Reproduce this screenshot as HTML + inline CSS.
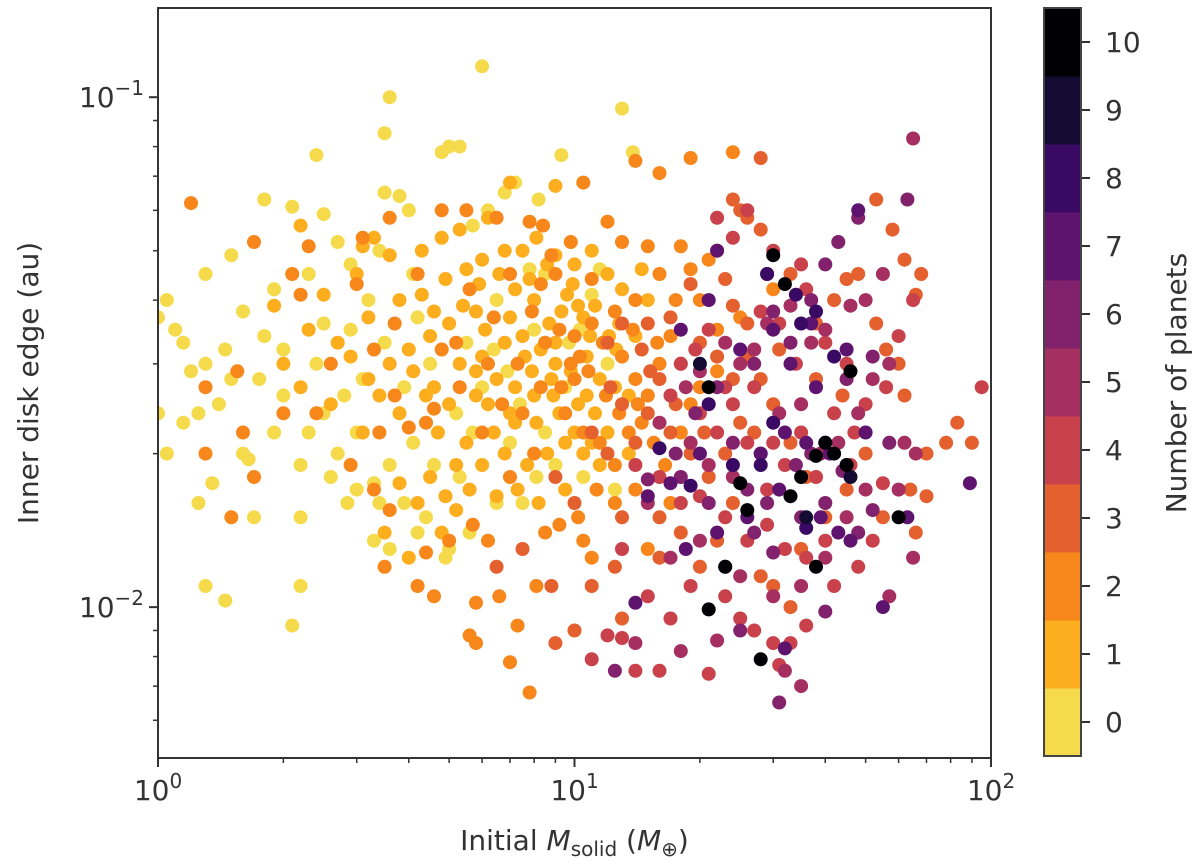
<!DOCTYPE html>
<html><head><meta charset="utf-8">
<style>
body{margin:0;background:#fff;}
svg{display:block;font-family:"DejaVu Sans","Liberation Sans",sans-serif;}
</style></head>
<body>
<svg id="chart" width="1200" height="868">
<rect width="1200" height="868" fill="#fff"/>
<g id="points"></g>
<g id="axes"></g>
<g id="cbar"></g>
</svg>
<script>
const planetCounts=[0,1,2,3,4,5,6,7,8,9,10];
const bandColors=["#f5db4c","#fcae1e","#f7861b","#e4602f","#c8414b","#a52f60","#82226c","#5e136e","#3a0963","#140b33","#000004"];
const xTickLabels=["0","1","2"];
const yTickLabels=["-2","-1"];
const pts_n0=[[6.0,0.115],[3.6,0.1],[13,0.095],[3.5,0.085],[5,0.08],[5.3,0.08],[4.8,0.078],[2.4,0.077],[9.3,0.077],[13.8,0.078],[7.2,0.068],[1.8,0.063],[3.5,0.065],[3.8,0.064],[6.8,0.065],[8.2,0.063],[2.1,0.061],[4,0.06],[2.5,0.059],[5.7,0.056],[1.5,0.049],[1.3,0.045],[1.05,0.04],[2.7,0.052],[3.4,0.05],[2.9,0.047],[1.9,0.042],[1.0,0.037],[2.3,0.045],[1.6,0.038],[3.2,0.04],[2.5,0.036],[1.1,0.035],[1.45,0.032],[1.3,0.03],[1.2,0.029],[1.5,0.028],[1.0,0.024],[1.15,0.023],[1.25,0.024],[1.4,0.025],[1.05,0.02],[1.6,0.02],[1.65,0.0195],[1.9,0.022],[2.3,0.022],[2.5,0.024],[2.8,0.026],[3.1,0.028],[2.7,0.02],[2.2,0.019],[2.6,0.018],[3.0,0.017],[3.3,0.0175],[2.85,0.016],[1.25,0.016],[1.7,0.015],[2.2,0.015],[1.3,0.011],[1.45,0.0103],[2.1,0.0092],[2.2,0.011],[3.6,0.019],[4.1,0.021],[3.9,0.016],[4.4,0.015],[4.2,0.014],[5.3,0.018],[5.0,0.013],[4.9,0.0125],[3.3,0.0135],[3.6,0.013],[6.5,0.016],[7.5,0.016],[7.4,0.025],[6.0,0.027],[5.2,0.024],[8.5,0.022],[9.0,0.019],[10.5,0.018],[12.5,0.017],[10.3,0.035],[11,0.041],[12,0.03],[9.7,0.033],[8.5,0.045],[4.5,0.03],[6.5,0.04],[6.4,0.032],[2.0,0.032],[1.75,0.028],[2.0,0.026],[3.5,0.033],[4.2,0.037],[6.2,0.06],[1.35,0.0175],[1.15,0.033],[5.5,0.033],[11.5,0.046],[7.8,0.046],[2.4,0.03],[2.9,0.035],[3.9,0.027],[4.6,0.019],[5.7,0.022],[6.9,0.029],[8.0,0.035],[3.0,0.022],[1.8,0.034],[4.1,0.045],[7.0,0.021],[9.5,0.027],[3.4,0.016],[5.6,0.014],[8.1,0.018]];
const pts_n1=[[7,0.068],[9,0.067],[6.2,0.058],[5.3,0.055],[4.8,0.053],[4.3,0.05],[3.3,0.053],[3.1,0.051],[2.2,0.056],[3.6,0.049],[2.3,0.035],[2.7,0.033],[3.2,0.037],[3.8,0.04],[4.3,0.041],[4.9,0.044],[5.5,0.046],[6,0.048],[6.8,0.05],[7.5,0.05],[8.1,0.053],[9,0.049],[10,0.047],[11,0.05],[12,0.045],[13,0.042],[7.2,0.042],[8,0.04],[9.3,0.038],[10.5,0.037],[11.2,0.039],[12.8,0.036],[5.8,0.038],[5,0.036],[4.5,0.034],[4,0.032],[3.6,0.03],[3.2,0.028],[2.9,0.031],[5.3,0.03],[6,0.031],[6.8,0.033],[7.5,0.034],[8.3,0.032],[9,0.03],[9.8,0.029],[10.7,0.031],[11.5,0.028],[12.6,0.032],[14,0.034],[8.8,0.028],[8,0.026],[7.2,0.027],[6.5,0.028],[5.8,0.026],[5,0.025],[4.4,0.026],[3.8,0.024],[3.1,0.022],[4.7,0.022],[5.5,0.021],[6.4,0.022],[7.2,0.023],[8.1,0.023],[9.2,0.024],[10.2,0.025],[11.2,0.024],[12,0.022],[13.5,0.026],[9.5,0.021],[8.6,0.02],[7.7,0.019],[6.8,0.02],[6,0.019],[5.2,0.019],[4.5,0.018],[3.8,0.0175],[5.6,0.017],[6.5,0.0165],[7.3,0.017],[8.2,0.016],[9.5,0.017],[10.5,0.02],[11.5,0.019],[4.2,0.016],[5.2,0.0155],[4.8,0.014],[3.5,0.014],[2.5,0.041],[3,0.045],[1.9,0.039],[2.2,0.027],[2.6,0.025],[2,0.03],[14.5,0.046],[15,0.04],[8.7,0.036],[9.6,0.041],[4.6,0.027],[7.9,0.029],[10.7,0.026],[6.1,0.035],[7,0.037],[12.5,0.027],[4,0.0125],[4.9,0.0165],[13.5,0.02],[5.9,0.043],[6.6,0.045],[7.8,0.044],[8.6,0.047],[9.9,0.043],[10.9,0.034],[12.1,0.034],[4.6,0.038],[5.4,0.039],[6.2,0.025],[7.6,0.031],[8.9,0.026],[10.0,0.022],[11.0,0.021],[4.1,0.029],[3.4,0.026],[5.8,0.029],[7.0,0.024],[9.0,0.033],[10.2,0.039]];
const pts_n2=[[1.2,0.062],[1.7,0.052],[2.3,0.051],[3.1,0.053],[3.0,0.043],[3.6,0.058],[4.8,0.06],[5.5,0.06],[6.5,0.058],[7.8,0.057],[8.4,0.056],[10.5,0.068],[14,0.075],[16,0.071],[19,0.076],[24,0.078],[2.2,0.041],[2.1,0.045],[1.55,0.029],[1.3,0.027],[1.6,0.022],[1.7,0.018],[1.5,0.015],[1.3,0.02],[2,0.024],[2.4,0.024],[2.9,0.019],[3.4,0.022],[3.3,0.017],[3.6,0.0155],[4.4,0.0128],[3.5,0.012],[4.2,0.011],[4.6,0.0105],[5,0.0135],[5.7,0.0145],[6.2,0.0135],[5.8,0.0102],[5.6,0.0088],[5.8,0.0085],[6.6,0.0105],[7.3,0.0092],[7.0,0.0078],[7.8,0.0068],[8.1,0.011],[8.5,0.014],[9.2,0.0145],[10.5,0.0135],[11,0.0125],[4,0.0225],[4.6,0.0245],[5.3,0.027],[6.7,0.025],[7.5,0.024],[8.3,0.027],[9.3,0.027],[10,0.028],[10.8,0.029],[11.7,0.033],[13,0.031],[14,0.028],[15,0.026],[16,0.03],[17,0.034],[17.5,0.04],[16,0.045],[19,0.046],[18,0.051],[21,0.048],[15,0.051],[13,0.052],[12,0.057],[9.8,0.052],[9,0.045],[8.3,0.043],[7,0.045],[5.6,0.042],[4.2,0.045],[3.7,0.036],[3.3,0.032],[4.8,0.032],[6.2,0.03],[7.3,0.03],[8.5,0.033],[10,0.034],[11,0.036],[12.5,0.038],[14,0.04],[9.5,0.024],[10.5,0.022],[11.5,0.021],[12.5,0.019],[13.5,0.022],[14.5,0.023],[15.5,0.021],[16.5,0.019],[18,0.022],[19,0.025],[20,0.027],[22,0.029],[11.3,0.017],[12.5,0.016],[10.2,0.015],[14,0.017],[15,0.013],[17,0.016],[6,0.022],[7,0.018],[8,0.02],[3.7,0.026],[2.6,0.03],[20,0.04],[22,0.035],[25,0.037],[30,0.042],[9.8,0.03],[11.9,0.026],[11,0.044],[8.8,0.049],[9.2,0.035],[10.3,0.031],[7.9,0.038],[6.4,0.037],[5.2,0.033],[4.4,0.023],[12.8,0.024],[13.8,0.035],[15.8,0.033],[14.2,0.025]];
const pts_n3=[[28,0.076],[24,0.063],[25,0.06],[26,0.058],[28,0.055],[22,0.05],[23,0.044],[29,0.045],[33,0.045],[24,0.039],[26,0.036],[19,0.043],[17,0.037],[15,0.036],[13,0.036],[12,0.033],[14.5,0.032],[16,0.028],[18,0.03],[20,0.033],[22,0.031],[24,0.028],[26,0.031],[28,0.028],[31,0.032],[13,0.025],[15,0.024],[17,0.022],[19,0.02],[21,0.018],[23,0.02],[25,0.023],[27,0.022],[30,0.025],[33,0.021],[36,0.018],[11,0.022],[12,0.02],[9,0.018],[10,0.016],[13,0.015],[16,0.015],[18,0.014],[20,0.012],[22,0.0135],[24,0.016],[12.5,0.012],[11,0.011],[16,0.0125],[13,0.0095],[10,0.009],[9,0.0085],[8.8,0.011],[6.5,0.012],[7.5,0.013],[60,0.03],[62,0.026],[56,0.032],[53,0.036],[66,0.041],[68,0.045],[62,0.048],[58,0.055],[53,0.063],[48,0.045],[45,0.044],[90,0.021],[83,0.023],[78,0.021],[70,0.02],[64,0.017],[55,0.015],[66,0.014],[70,0.0165],[42,0.04],[38,0.036],[44,0.026],[38,0.028],[50,0.02],[45,0.017],[40,0.015],[35,0.013],[30,0.011],[28,0.0115],[33,0.01],[14,0.021],[17.5,0.025],[20.5,0.022],[12.2,0.027],[15.2,0.029]];
const pts_n4=[[65,0.04],[56,0.027],[95,0.027],[60,0.034],[22,0.058],[26,0.06],[24,0.053],[30,0.05],[35,0.047],[36,0.042],[28,0.038],[31,0.036],[34,0.03],[21,0.035],[18,0.03],[17,0.026],[20,0.024],[22,0.022],[24,0.025],[27,0.027],[30,0.021],[32,0.019],[35,0.022],[38,0.018],[42,0.024],[47,0.022],[50,0.025],[45,0.03],[40,0.033],[14,0.019],[16,0.018],[18,0.016],[20,0.0165],[23,0.015],[26,0.0135],[29,0.0145],[32,0.013],[36,0.0125],[40,0.0135],[15,0.0105],[17,0.0095],[19,0.011],[23,0.0105],[25,0.0095],[27,0.009],[30,0.0085],[33,0.0085],[36,0.0092],[13,0.0087],[12,0.0088],[11,0.0079],[14,0.0075],[16,0.0075],[21,0.0074],[31,0.0077],[42,0.011],[48,0.012],[52,0.0135],[55,0.0175],[46,0.019],[13,0.013],[19.5,0.032],[23,0.027],[26,0.021],[29,0.017]];
const pts_n5=[[65,0.083],[55,0.045],[50,0.04],[46,0.039],[40,0.035],[37,0.033],[33,0.039],[29,0.036],[27,0.032],[25,0.03],[23,0.033],[20,0.029],[18.5,0.027],[16,0.023],[19,0.021],[21,0.019],[24,0.018],[28,0.02],[31,0.024],[35,0.025],[39,0.02],[43,0.021],[48,0.024],[52,0.028],[57,0.03],[62,0.021],[66,0.02],[60,0.017],[45,0.015],[40,0.0125],[35,0.011],[30,0.0105],[25,0.0115],[20,0.0135],[17,0.0125],[15,0.016],[14,0.0085],[18,0.0082],[22,0.0086],[32,0.0075],[35,0.007],[57,0.0105],[65,0.0125],[50,0.017]];
const pts_n6=[[63,0.063],[48,0.058],[43,0.052],[40,0.047],[37,0.04],[33,0.033],[30,0.038],[27,0.03],[22,0.027],[19.5,0.024],[17.5,0.02],[15,0.0178],[18,0.018],[21,0.016],[24,0.021],[26,0.017],[29,0.016],[34,0.019],[37,0.02],[40,0.016],[44,0.0185],[48,0.014],[52,0.0155],[57,0.021],[52,0.031],[45,0.028],[27,0.014],[30,0.0128],[35,0.015],[40,0.0098],[31,0.0065],[25,0.009],[12.5,0.0075],[23,0.012]];
const pts_n7=[[48,0.06],[22,0.05],[21,0.04],[18,0.035],[25,0.032],[30,0.035],[33,0.03],[37,0.036],[38,0.027],[45,0.032],[50,0.022],[41,0.02],[36,0.021],[32,0.022],[28,0.02],[20,0.02],[17,0.0175],[15,0.0165],[18.5,0.013],[22,0.014],[26,0.015],[31,0.017],[39,0.015],[43,0.014],[55,0.01],[46,0.0135],[89,0.0175],[63,0.015],[32,0.0083],[14,0.0102]];
const pts_n8=[[29,0.045],[34,0.041],[38,0.038],[35,0.036],[42,0.031],[16,0.0205],[24,0.019],[28,0.019],[30,0.023],[40,0.021],[19,0.0173],[21,0.025],[36,0.0143]];
const pts_n9=[[46,0.018],[36,0.015],[20,0.03]];
const pts_n10=[[30,0.049],[32,0.043],[21,0.027],[46,0.029],[35,0.018],[25,0.0175],[26,0.0155],[38,0.0198],[45,0.019],[42,0.02],[23,0.012],[21,0.0099],[38,0.012],[28,0.0079],[60,0.015],[40,0.021],[33,0.0165]];
const groups=[pts_n0,pts_n1,pts_n2,pts_n3,pts_n4,pts_n5,pts_n6,pts_n7,pts_n8,pts_n9,pts_n10];

const NS="http://www.w3.org/2000/svg";
const L=158,R=991,T=8,B=758;
const xMinLog=0,xMaxLog=2,yMinLog=Math.log10(0.00506),yMaxLog=Math.log10(0.1496);
function xs(v){return L+(Math.log10(v)-xMinLog)/(xMaxLog-xMinLog)*(R-L);}
function ys(v){return B-(Math.log10(v)-yMinLog)/(yMaxLog-yMinLog)*(B-T);}
const cbTop=8,cbBot=756,cbL=1044,cbR=1081;
function cs(n){return cbBot-(n+0.5)/11*(cbBot-cbTop);}
function mk(tag,attrs,parent){const e=document.createElementNS(NS,tag);for(const k in attrs)e.setAttribute(k,attrs[k]);parent.appendChild(e);return e;}

const pl=document.getElementById('points');
const clip=mk('clipPath',{id:'pc'},document.getElementById('chart'));
mk('rect',{x:L,y:T,width:R-L,height:B-T},clip);
pl.setAttribute('clip-path','url(#pc)');
groups.forEach((g,gi)=>{
  g.forEach(p=>{
    const c=mk('circle',{cx:xs(p[0]).toFixed(1),cy:ys(p[1]).toFixed(1),r:7,fill:bandColors[planetCounts[gi]]},pl);
    
    
  });
});

const ax=document.getElementById('axes');
const frame=mk('rect',{x:L,y:T,width:R-L,height:B-T,fill:'none',stroke:'#333',"stroke-width":2},ax);


for(let d=0;d<2;d++){for(let m=2;m<10;m++){const x=xs(m*Math.pow(10,d));mk('line',{x1:x,x2:x,y1:B,y2:B+5,stroke:'#333',"stroke-width":1.5},ax);}}
xTickLabels.forEach(l=>{const v=Math.pow(10,+l);const x=xs(v);
  mk('line',{x1:x,x2:x,y1:B,y2:B+9,stroke:'#333',"stroke-width":2},ax);
  const t=mk('text',{x:x,y:B+42,"text-anchor":"middle","font-size":28,fill:'#333'},ax);
  t.innerHTML='10<tspan dy="-12" font-size="20">'+l+'</tspan>';
  
  
});
[0.006,0.007,0.008,0.009,0.02,0.03,0.04,0.05,0.06,0.07,0.08,0.09].forEach(v=>{const y=ys(v);mk('line',{x1:L-5,x2:L,y1:y,y2:y,stroke:'#333',"stroke-width":1.5},ax);});
yTickLabels.forEach(l=>{const y=ys(Math.pow(10,+l));
  mk('line',{x1:L-9,x2:L,y1:y,y2:y,stroke:'#333',"stroke-width":2},ax);
  const t=mk('text',{x:L-14,y:y+10,"text-anchor":"end","font-size":28,fill:'#333'},ax);
  t.innerHTML='10<tspan dy="-12" font-size="20">\u2212'+l.slice(1)+'</tspan>';
  
  
});
const xl=mk('text',{x:(L+R)/2,y:850,"text-anchor":"middle","font-size":28,fill:'#333'},ax);
xl.innerHTML='Initial <tspan font-style="italic">M</tspan><tspan dy="6" font-size="20">solid</tspan><tspan dy="-6"> (</tspan><tspan font-style="italic">M</tspan><tspan dy="6" font-size="20">\u2295</tspan><tspan dy="-6">)</tspan>';


const yl=mk('text',{x:0,y:0,transform:'translate(38,383) rotate(-90)',"text-anchor":"middle","font-size":28,fill:'#333'},ax);
yl.textContent='Inner disk edge (au)';



const cb=document.getElementById('cbar');
planetCounts.forEach(n=>{
  const r=mk('rect',{x:cbL,y:cs(n+0.5),width:cbR-cbL,height:cs(n-0.5)-cs(n+0.5)+0.5,fill:bandColors[n]},cb);
  
  
  const y=cs(n);
  mk('line',{x1:cbR,x2:cbR+9,y1:y,y2:y,stroke:'#333',"stroke-width":2},cb);
  const t=mk('text',{x:cbR+24,y:y+10,"font-size":28,fill:'#333'},cb);
  t.textContent=String(n);
  
  
});
mk('rect',{x:cbL,y:cbTop,width:cbR-cbL,height:cbBot-cbTop,fill:'none',stroke:'#444',"stroke-width":2},cb);
const ct=mk('text',{x:0,y:0,transform:'translate(1186,383) rotate(-90)',"text-anchor":"middle","font-size":28,fill:'#333'},cb);
ct.textContent='Number of planets';


</script>
</body></html>
